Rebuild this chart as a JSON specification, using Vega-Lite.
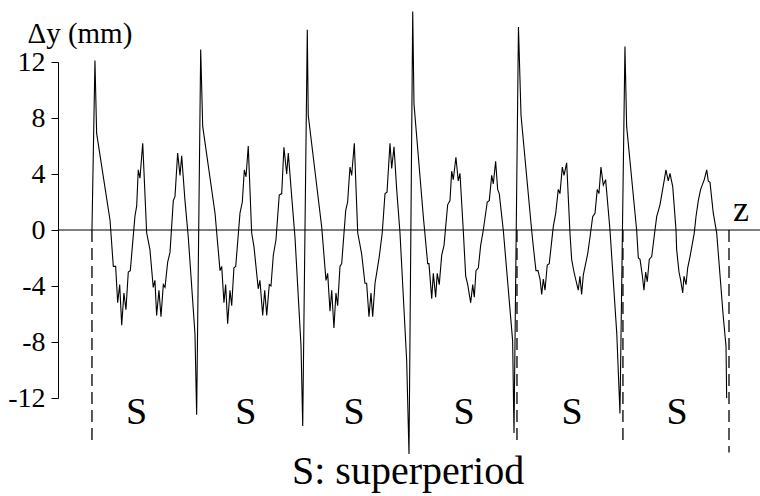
{
  "$schema": "https://vega.github.io/schema/vega-lite/v6.json",
  "width": 702,
  "height": 336,
  "autosize": "none",
  "padding": {"left": 58, "top": 62, "right": 0, "bottom": 98},
  "background": "white",
  "config": {
    "view": {"stroke": null},
    "font": "'Liberation Serif', 'DejaVu Serif', serif",
    "axisY": {
      "grid": false,
      "domainColor": "black",
      "domainWidth": 1,
      "tickColor": "black",
      "tickSize": 7,
      "labelPadding": 6,
      "labelFont": "'Liberation Serif', 'DejaVu Serif', serif",
      "labelFontSize": 28,
      "labelColor": "black",
      "labelExpr": "datum.value + ''",
      "titleAngle": 0,
      "titleAlign": "left",
      "titleBaseline": "alphabetic",
      "titleX": -31,
      "titleY": -20,
      "titleFont": "'Liberation Serif', 'DejaVu Serif', serif",
      "titleFontSize": 29,
      "titleFontWeight": "normal",
      "titleColor": "black"
    }
  },
  "layer": [
    {
      "data": {"values": [{"dy": 0}]},
      "mark": {"type": "rule", "color": "black", "strokeWidth": 1.2},
      "encoding": {"y": {"field": "dy", "type": "quantitative"}}
    },
    {
      "data": {"values": [
        {"z": 0, "top": 0, "bottom": -15.1},
        {"z": 4.003, "top": 0, "bottom": -15.2},
        {"z": 5.001, "top": 0, "bottom": -15.0},
        {"z": 6.0, "top": 0, "bottom": -15.9}
      ]},
      "mark": {"type": "rule", "color": "black", "strokeWidth": 1.3, "strokeDash": [12, 6], "clip": false},
      "encoding": {
        "x": {"field": "z", "type": "quantitative", "axis": null},
        "y": {"field": "top", "type": "quantitative"},
        "y2": {"field": "bottom"}
      }
    },
    {
      "data": {"values": [
      {"z": 0.000, "dy": 0}, {"z": 0.028, "dy": 12.1}, {"z": 0.044, "dy": 6.9}, {"z": 0.170, "dy": 0.7},
      {"z": 0.201, "dy": -2.6}, {"z": 0.223, "dy": -2.6}, {"z": 0.242, "dy": -5.2}, {"z": 0.261, "dy": -3.9},
      {"z": 0.280, "dy": -6.8}, {"z": 0.301, "dy": -4.5}, {"z": 0.320, "dy": -5.7}, {"z": 0.342, "dy": -3.0},
      {"z": 0.361, "dy": -2.9}, {"z": 0.405, "dy": 1.0}, {"z": 0.421, "dy": 1.7}, {"z": 0.436, "dy": 4.3},
      {"z": 0.452, "dy": 3.7}, {"z": 0.478, "dy": 6.2}, {"z": 0.515, "dy": -0.2}, {"z": 0.546, "dy": -1.4},
      {"z": 0.577, "dy": -4.1}, {"z": 0.593, "dy": -3.6}, {"z": 0.609, "dy": -6.1}, {"z": 0.631, "dy": -4.3},
      {"z": 0.650, "dy": -6.2}, {"z": 0.672, "dy": -3.9}, {"z": 0.688, "dy": -4.1}, {"z": 0.713, "dy": -2.3},
      {"z": 0.735, "dy": -1.6}, {"z": 0.766, "dy": 2.1}, {"z": 0.782, "dy": 2.4}, {"z": 0.807, "dy": 5.5},
      {"z": 0.829, "dy": 3.9}, {"z": 0.845, "dy": 5.3}, {"z": 0.876, "dy": 2.1}, {"z": 0.907, "dy": -0.5},
      {"z": 0.970, "dy": -7.4}, {"z": 0.986, "dy": -13.2},
      {"z": 1.024, "dy": 12.9}, {"z": 1.043, "dy": 7.4}, {"z": 1.159, "dy": 1.2}, {"z": 1.206, "dy": -2.9},
      {"z": 1.222, "dy": -2.6}, {"z": 1.243, "dy": -5.2}, {"z": 1.259, "dy": -3.9}, {"z": 1.278, "dy": -6.7},
      {"z": 1.300, "dy": -4.3}, {"z": 1.316, "dy": -5.4}, {"z": 1.337, "dy": -2.7}, {"z": 1.354, "dy": -2.6},
      {"z": 1.394, "dy": 1.2}, {"z": 1.416, "dy": 2.0}, {"z": 1.435, "dy": 4.3}, {"z": 1.451, "dy": 3.8},
      {"z": 1.472, "dy": 6.0}, {"z": 1.504, "dy": -0.2}, {"z": 1.526, "dy": -1.2}, {"z": 1.566, "dy": -4.2},
      {"z": 1.582, "dy": -3.6}, {"z": 1.608, "dy": -6.1}, {"z": 1.627, "dy": -4.3}, {"z": 1.646, "dy": -6.1},
      {"z": 1.670, "dy": -3.9}, {"z": 1.686, "dy": -4.0}, {"z": 1.708, "dy": -1.8}, {"z": 1.733, "dy": -0.7},
      {"z": 1.764, "dy": 2.5}, {"z": 1.787, "dy": 2.6}, {"z": 1.808, "dy": 5.9}, {"z": 1.834, "dy": 4.0},
      {"z": 1.849, "dy": 5.5}, {"z": 1.881, "dy": 2.4}, {"z": 1.912, "dy": -0.5}, {"z": 1.969, "dy": -8.3},
      {"z": 1.985, "dy": -14.0},
      {"z": 2.028, "dy": 14.3}, {"z": 2.037, "dy": 8.2}, {"z": 2.164, "dy": 0.2}, {"z": 2.204, "dy": -3.6},
      {"z": 2.220, "dy": -3.1}, {"z": 2.242, "dy": -5.8}, {"z": 2.258, "dy": -4.3}, {"z": 2.279, "dy": -7.0},
      {"z": 2.298, "dy": -4.5}, {"z": 2.314, "dy": -5.4}, {"z": 2.336, "dy": -2.6}, {"z": 2.352, "dy": -2.4},
      {"z": 2.390, "dy": 1.4}, {"z": 2.408, "dy": 2.0}, {"z": 2.430, "dy": 4.5}, {"z": 2.446, "dy": 3.9},
      {"z": 2.471, "dy": 6.2}, {"z": 2.503, "dy": -0.2}, {"z": 2.540, "dy": -1.7}, {"z": 2.571, "dy": -3.8},
      {"z": 2.587, "dy": -3.8}, {"z": 2.609, "dy": -6.2}, {"z": 2.628, "dy": -4.5}, {"z": 2.644, "dy": -6.2},
      {"z": 2.666, "dy": -3.8}, {"z": 2.706, "dy": -1.9}, {"z": 2.734, "dy": -0.2}, {"z": 2.760, "dy": 2.6},
      {"z": 2.779, "dy": 2.7}, {"z": 2.807, "dy": 6.2}, {"z": 2.823, "dy": 4.4}, {"z": 2.845, "dy": 5.95},
      {"z": 2.870, "dy": 2.9}, {"z": 2.901, "dy": -0.2}, {"z": 2.964, "dy": -9.3}, {"z": 2.986, "dy": -16.0},
      {"z": 3.021, "dy": 15.6}, {"z": 3.033, "dy": 9.0}, {"z": 3.121, "dy": 0.95}, {"z": 3.162, "dy": -2.4},
      {"z": 3.174, "dy": -2.4}, {"z": 3.200, "dy": -4.9}, {"z": 3.215, "dy": -3.1}, {"z": 3.237, "dy": -4.8},
      {"z": 3.252, "dy": -3.1}, {"z": 3.271, "dy": -3.9}, {"z": 3.294, "dy": -1.8}, {"z": 3.316, "dy": -1.1},
      {"z": 3.350, "dy": 1.8}, {"z": 3.372, "dy": 2.1}, {"z": 3.388, "dy": 4.2}, {"z": 3.403, "dy": 3.6},
      {"z": 3.428, "dy": 5.2}, {"z": 3.450, "dy": 3.5}, {"z": 3.466, "dy": 4.05}, {"z": 3.497, "dy": 0},
      {"z": 3.520, "dy": -3.3}, {"z": 3.539, "dy": -3.9}, {"z": 3.567, "dy": -5.2}, {"z": 3.586, "dy": -3.9},
      {"z": 3.601, "dy": -4.8}, {"z": 3.617, "dy": -2.9}, {"z": 3.639, "dy": -2.7}, {"z": 3.661, "dy": -1.1},
      {"z": 3.686, "dy": 0}, {"z": 3.723, "dy": 2.0}, {"z": 3.742, "dy": 2.1}, {"z": 3.765, "dy": 3.9},
      {"z": 3.780, "dy": 3.3}, {"z": 3.802, "dy": 4.9}, {"z": 3.821, "dy": 2.9}, {"z": 3.836, "dy": 2.6},
      {"z": 3.874, "dy": 0}, {"z": 3.962, "dy": -7.9}, {"z": 3.975, "dy": -14.5},
      {"z": 4.017, "dy": 14.5}, {"z": 4.041, "dy": 8.2}, {"z": 4.141, "dy": 0}, {"z": 4.157, "dy": -1.2},
      {"z": 4.182, "dy": -2.9}, {"z": 4.201, "dy": -2.9}, {"z": 4.220, "dy": -3.5}, {"z": 4.236, "dy": -4.6},
      {"z": 4.251, "dy": -3.5}, {"z": 4.267, "dy": -4.3}, {"z": 4.288, "dy": -2.5}, {"z": 4.307, "dy": -2.4},
      {"z": 4.345, "dy": 0.24}, {"z": 4.368, "dy": 1.2}, {"z": 4.392, "dy": 2.9}, {"z": 4.408, "dy": 2.6},
      {"z": 4.430, "dy": 4.5}, {"z": 4.446, "dy": 3.9}, {"z": 4.471, "dy": 4.8}, {"z": 4.502, "dy": -0.2},
      {"z": 4.518, "dy": -2.1}, {"z": 4.540, "dy": -3.0}, {"z": 4.580, "dy": -4.3}, {"z": 4.596, "dy": -3.3},
      {"z": 4.612, "dy": -4.6}, {"z": 4.628, "dy": -3.2}, {"z": 4.669, "dy": -1.7}, {"z": 4.691, "dy": -0.5},
      {"z": 4.716, "dy": 0.95}, {"z": 4.738, "dy": 1.2}, {"z": 4.759, "dy": 2.9}, {"z": 4.775, "dy": 2.6},
      {"z": 4.794, "dy": 4.5}, {"z": 4.816, "dy": 3.2}, {"z": 4.838, "dy": 3.6}, {"z": 4.879, "dy": 0},
      {"z": 4.943, "dy": -7.4}, {"z": 4.973, "dy": -13.1},
      {"z": 5.020, "dy": 13.1}, {"z": 5.036, "dy": 7.4}, {"z": 5.130, "dy": 0}, {"z": 5.146, "dy": -2.0},
      {"z": 5.162, "dy": -2.1}, {"z": 5.183, "dy": -3.2}, {"z": 5.199, "dy": -4.3}, {"z": 5.215, "dy": -3.0},
      {"z": 5.230, "dy": -3.7}, {"z": 5.249, "dy": -2.1}, {"z": 5.272, "dy": -1.9}, {"z": 5.303, "dy": 0},
      {"z": 5.319, "dy": 0.95}, {"z": 5.350, "dy": 1.8}, {"z": 5.375, "dy": 2.9}, {"z": 5.391, "dy": 3.6},
      {"z": 5.406, "dy": 4.3}, {"z": 5.428, "dy": 3.5}, {"z": 5.444, "dy": 4.05}, {"z": 5.470, "dy": 3.1},
      {"z": 5.501, "dy": 0}, {"z": 5.507, "dy": -1.4}, {"z": 5.529, "dy": -3.0}, {"z": 5.545, "dy": -3.6},
      {"z": 5.564, "dy": -4.5}, {"z": 5.576, "dy": -3.3}, {"z": 5.595, "dy": -3.9}, {"z": 5.611, "dy": -2.7},
      {"z": 5.633, "dy": -1.9}, {"z": 5.673, "dy": -0.2}, {"z": 5.689, "dy": 0.95}, {"z": 5.711, "dy": 2.1},
      {"z": 5.733, "dy": 2.9}, {"z": 5.767, "dy": 3.6}, {"z": 5.790, "dy": 4.3}, {"z": 5.805, "dy": 3.5},
      {"z": 5.821, "dy": 3.4}, {"z": 5.852, "dy": 1.2}, {"z": 5.884, "dy": -0.2}, {"z": 5.946, "dy": -6.2},
      {"z": 5.972, "dy": -8.3}, {"z": 5.978, "dy": -12.0}
      ]},
      "mark": {"type": "line", "color": "black", "strokeWidth": 1.1, "clip": false},
      "encoding": {
        "x": {"field": "z", "type": "quantitative", "scale": {"domain": [-0.32, 6.292], "nice": false, "zero": false}, "axis": null},
        "y": {
          "field": "dy", "type": "quantitative",
          "scale": {"domain": [-12, 12], "nice": false},
          "axis": {"values": [-12, -8, -4, 0, 4, 8, 12], "title": "Δy (mm)"}
        }
      }
    },
    {
      "data": {"values": [
        {"z": 0.419, "dy": -13.1, "text": "S"},
        {"z": 1.450, "dy": -13.1, "text": "S"},
        {"z": 2.468, "dy": -13.1, "text": "S"},
        {"z": 3.504, "dy": -13.1, "text": "S"},
        {"z": 4.521, "dy": -13.1, "text": "S"},
        {"z": 5.510, "dy": -13.1, "text": "S"}
      ]},
      "mark": {"type": "text", "color": "black", "font": "'Liberation Serif', 'DejaVu Serif', serif", "fontSize": 38, "baseline": "middle", "align": "center"},
      "encoding": {
        "x": {"field": "z", "type": "quantitative", "axis": null},
        "y": {"field": "dy", "type": "quantitative"},
        "text": {"field": "text", "type": "nominal"}
      }
    },
    {
      "data": {"values": [
        {"z": 6.113, "dy": 1.4, "text": "z"}
      ]},
      "mark": {"type": "text", "color": "black", "font": "'Liberation Serif', 'DejaVu Serif', serif", "fontSize": 36, "baseline": "middle", "align": "center"},
      "encoding": {
        "x": {"field": "z", "type": "quantitative", "axis": null},
        "y": {"field": "dy", "type": "quantitative"},
        "text": {"field": "text", "type": "nominal"}
      }
    },
    {
      "data": {"values": [
        {"z": 2.977, "dy": -17.3, "text": "S: superperiod"}
      ]},
      "mark": {"type": "text", "color": "black", "font": "'Liberation Serif', 'DejaVu Serif', serif", "fontSize": 40, "baseline": "middle", "align": "center"},
      "encoding": {
        "x": {"field": "z", "type": "quantitative", "axis": null},
        "y": {"field": "dy", "type": "quantitative"},
        "text": {"field": "text", "type": "nominal"}
      }
    }
  ]
}
